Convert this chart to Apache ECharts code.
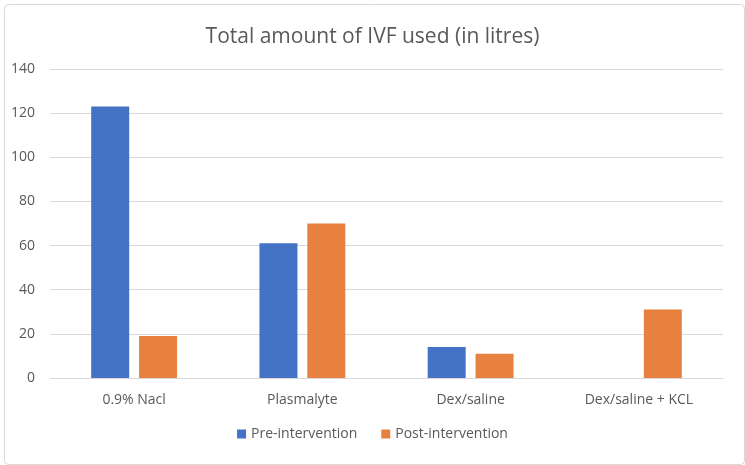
<!DOCTYPE html>
<html><head><meta charset="utf-8">
<script src="https://cdn.jsdelivr.net/npm/echarts@6/dist/echarts.min.js"></script>
<style>html,body{margin:0;padding:0;background:#fff}#c{width:745px;height:465px}</style>
</head><body><div id="c"></div>
<script>
const categories = ['0.9% Nacl', 'Plasmalyte', 'Dex/saline', 'Dex/saline + KCL'];
const preIntervention = [123, 61, 14, 0];
const postIntervention = [19, 70, 11, 31];
const yTicks = [0, 20, 40, 60, 80, 100, 120, 140];

const font = 'Open Sans';
const chart = echarts.init(document.getElementById('c'), null, {renderer: 'canvas'});
chart.setOption({
  animation: false,
  backgroundColor: '#fff',
  graphic: [{
    type: 'rect', left: 2, top: 2,
    shape: {width: 740, height: 460, r: 4},
    style: {fill: 'none', stroke: '#d9d9d9', lineWidth: 1}
  }],
  title: {
    text: 'Total amount of IVF used (in litres)',
    left: 'center', top: 22,
    textStyle: {fontFamily: font, fontSize: 21, fontWeight: 'normal', color: '#595959'}
  },
  legend: {
    bottom: 19, left: 'center',
    itemWidth: 9, itemHeight: 9, itemGap: 24,
    icon: 'rect',
    textStyle: {fontFamily: font, fontSize: 14, color: '#595959'},
    data: ['Pre-intervention', 'Post-intervention']
  },
  grid: {left: 50, right: 22, top: 69, bottom: 87, containLabel: false},
  xAxis: {
    type: 'category', data: categories,
    axisLine: {show: true, lineStyle: {color: '#d9d9d9'}},
    axisTick: {show: false},
    axisLabel: {fontFamily: font, fontSize: 14, color: '#595959', margin: 15}
  },
  yAxis: {
    type: 'value', min: yTicks[0], max: yTicks[yTicks.length - 1], interval: 20,
    axisLine: {show: false}, axisTick: {show: false},
    splitLine: {lineStyle: {color: '#d9d9d9'}},
    axisLabel: {fontFamily: font, fontSize: 14, color: '#595959', margin: 15}
  },
  series: [
    {name: 'Pre-intervention', type: 'bar', data: preIntervention,
     barWidth: 38, barGap: '26%', itemStyle: {color: '#4472C4'}},
    {name: 'Post-intervention', type: 'bar', data: postIntervention,
     barWidth: 38, barGap: '26%', itemStyle: {color: '#E8803F'}}
  ]
});
</script></body></html>
